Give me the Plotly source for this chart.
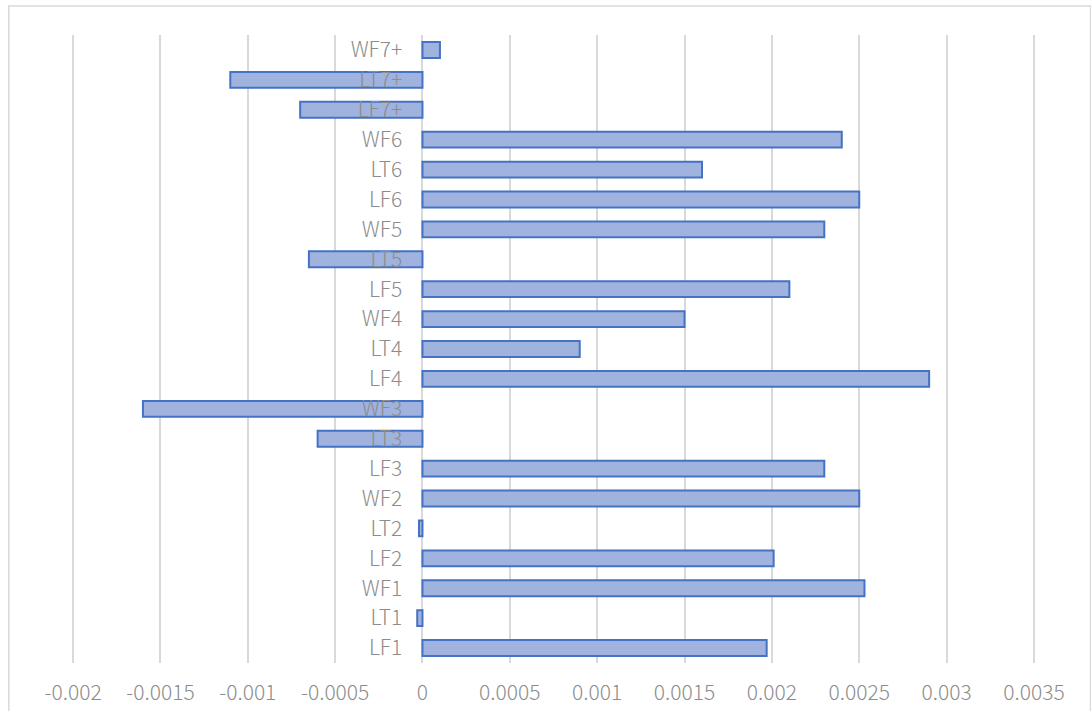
import plotly.graph_objects as go

# Categories listed bottom-to-top as they appear on the vertical axis
categories = ["LF1", "LT1", "WF1", "LF2", "LT2", "WF2", "LF3", "LT3", "WF3",
              "LF4", "LT4", "WF4", "LF5", "LT5", "WF5", "LF6", "LT6", "WF6",
              "LF7+", "LT7+", "WF7+"]
values = [0.00197, -0.00003, 0.00253, 0.00201, -0.00002, 0.0025, 0.0023,
          -0.0006, -0.0016, 0.0029, 0.0009, 0.0015, 0.0021, -0.00065, 0.0023,
          0.0025, 0.0016, 0.0024, -0.0007, -0.0011, 0.0001]

x_ticks = [-0.002, -0.0015, -0.001, -0.0005, 0, 0.0005, 0.001, 0.0015,
           0.002, 0.0025, 0.003, 0.0035]
x_tick_text = ["-0.002", "-0.0015", "-0.001", "-0.0005", "0", "0.0005",
               "0.001", "0.0015", "0.002", "0.0025", "0.003", "0.0035"]

# A hair of padding so the outermost gridlines stay visible
x_min, x_max = -0.002006, 0.003506
font_family = "Noto Sans CJK SC, Lato, sans-serif"
text_grey = "#8c8c8c"
grid_grey = "#d9d9d9"

fig = go.Figure(
    go.Bar(
        y=categories,
        x=values,
        orientation="h",
        marker=dict(color="#a0b3df", line=dict(color="#4472c4", width=2)),
        hoverinfo="x+y",
    )
)

fig.update_layout(
    width=1091,
    height=711,
    margin=dict(l=72, r=56, t=35, b=48),
    paper_bgcolor="white",
    plot_bgcolor="white",
    bargap=0.47,
    showlegend=False,
    font=dict(family=font_family, size=21, color=text_grey),
    xaxis=dict(
        range=[x_min, x_max],
        tickvals=x_ticks,
        ticktext=x_tick_text,
        automargin=False,
        showgrid=True,
        gridcolor=grid_grey,
        gridwidth=1.5,
        zeroline=True,
        zerolinecolor=grid_grey,
        zerolinewidth=1.5,
        showline=False,
        ticks="outside",
        ticklen=11,
        tickcolor="rgba(0,0,0,0)",
        tickfont=dict(size=21, color=text_grey, weight=300),
    ),
    yaxis=dict(
        type="category",
        categoryorder="array",
        categoryarray=categories,
        anchor="free",
        position=(0 - x_min) / (x_max - x_min),
        automargin=False,
        showgrid=False,
        zeroline=False,
        showline=False,
        ticks="outside",
        ticklen=16,
        tickcolor="rgba(0,0,0,0)",
        tickfont=dict(size=21, color=text_grey, weight=300),
        layer="above traces",
    ),
)

# Light grey frame around the whole chart area
fig.add_shape(
    type="rect", xref="paper", yref="paper",
    x0=-0.0656, x1=1.0577, y0=-0.25, y1=1.046,
    line=dict(color="#d9d9d9", width=1.5),
    fillcolor="rgba(0,0,0,0)",
    layer="below",
)

fig.write_html("out.html")
